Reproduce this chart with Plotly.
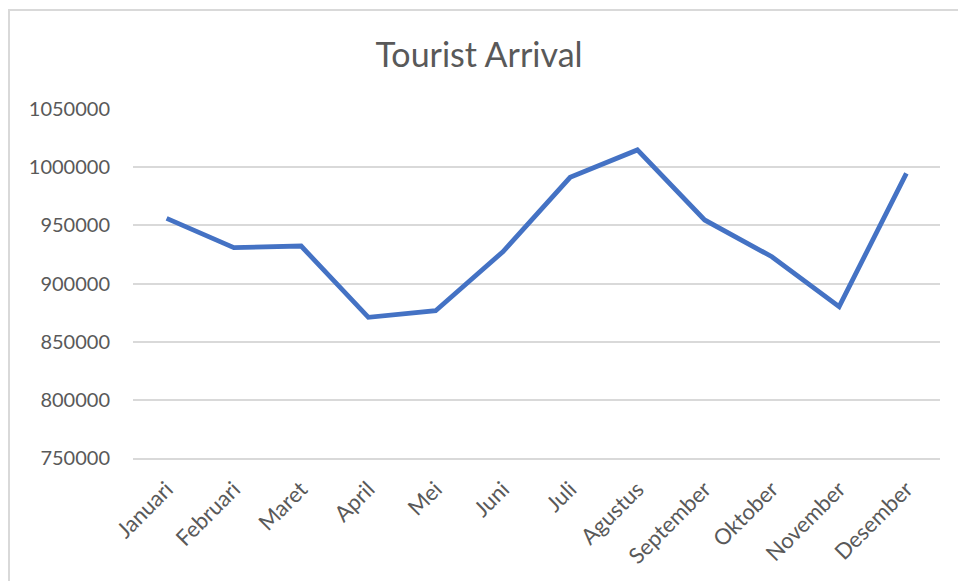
import plotly.graph_objects as go

# Monthly tourist arrivals
months = ["Januari", "Februari", "Maret", "April", "Mei", "Juni",
          "Juli", "Agustus", "September", "Oktober", "November", "Desember"]
arrivals = [956000, 930800, 932200, 870900, 876600, 927300,
            991300, 1014800, 954600, 923000, 880100, 994700]

y_ticks = [750000, 800000, 850000, 900000, 950000, 1000000, 1050000]

W, H = 958, 581
ML, MR, MT, MB = 133, 18, 109, 123
PW, PH = W - ML - MR, H - MT - MB

TEXT = "#595959"
GRID = "#d9d9d9"
FONT = "Lato"


def px_x(px):
    return (px - ML) / PW


def px_y(py):
    return (H - MB - py) / PH


fig = go.Figure(
    go.Scatter(
        x=months,
        y=arrivals,
        mode="lines",
        line=dict(color="#4472C4", width=4.8),
        hoverinfo="x+y",
    )
)

fig.update_layout(
    width=W,
    height=H,
    margin=dict(l=ML, r=MR, t=MT, b=MB),
    paper_bgcolor="white",
    plot_bgcolor="white",
    showlegend=False,
    title=dict(
        text="Tourist Arrival",
        x=0.5,
        xref="container",
        xanchor="center",
        y=1 - 55 / H,
        yref="container",
        yanchor="middle",
        font=dict(family=FONT, size=34, color=TEXT),
    ),
    xaxis=dict(
        type="category",
        range=[-0.5, len(months) - 0.5],
        showgrid=False,
        showline=True,
        linecolor=GRID,
        linewidth=1.5,
        ticks="",
        tickangle=-45,
        ticklabelstandoff=8,
        tickfont=dict(family=FONT, size=22, color=TEXT),
        zeroline=False,
    ),
    yaxis=dict(
        range=[750000, 1050000],
        tickvals=y_ticks,
        ticktext=[str(v) for v in y_ticks],
        showgrid=True,
        gridcolor=GRID,
        gridwidth=1.5,
        showline=False,
        ticks="",
        ticklabelstandoff=22,
        tickfont=dict(family=FONT, size=20, color=TEXT),
        zeroline=False,
    ),
    shapes=[
        # chart frame: top and left edges
        dict(type="line", xref="paper", yref="paper",
             x0=px_x(8), x1=px_x(W + 2), y0=px_y(10), y1=px_y(10),
             line=dict(color=GRID, width=2)),
        dict(type="line", xref="paper", yref="paper",
             x0=px_x(9), x1=px_x(9), y0=px_y(10), y1=px_y(H + 2),
             line=dict(color=GRID, width=2)),
    ],
)

fig.write_html("out.html")
